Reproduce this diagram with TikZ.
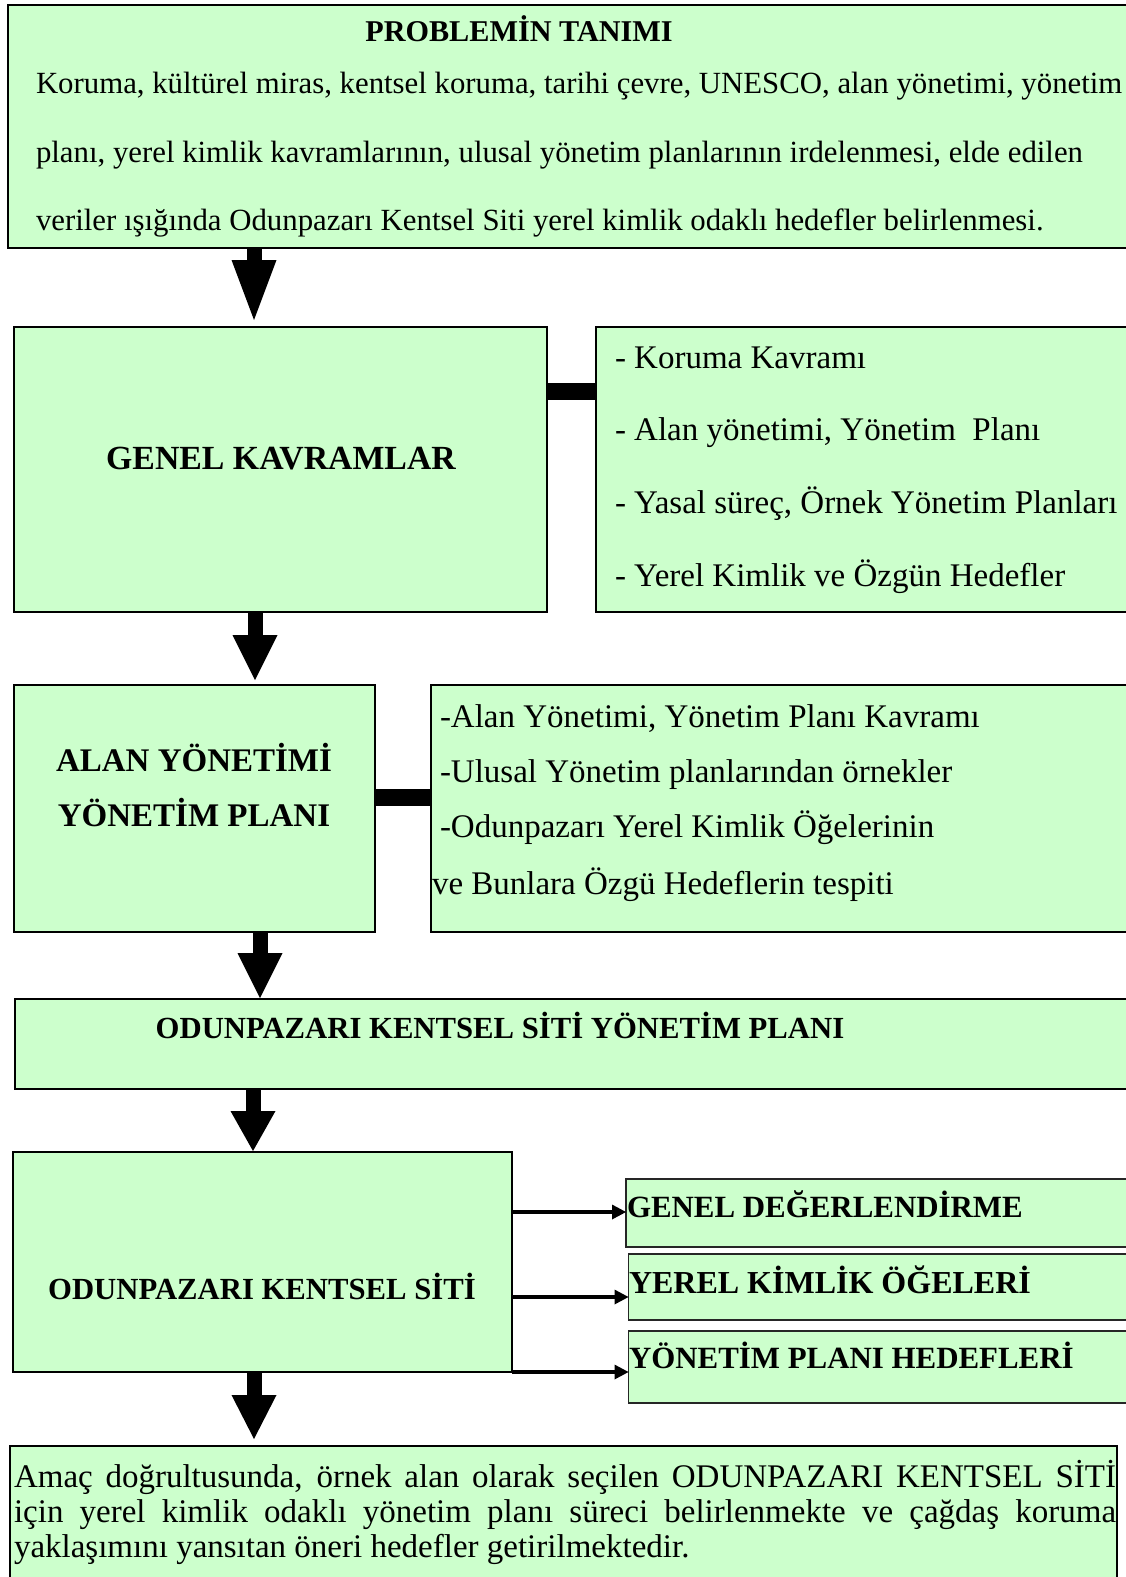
\documentclass[tikz,border=0pt]{standalone}
\usepackage{fontspec}
\setmainfont{Liberation Serif}
\usetikzlibrary{arrows.meta}
\definecolor{boxgreen}{HTML}{CCFFCC}
\begin{document}
\begin{tikzpicture}[x=1pt,y=-1pt,
  box/.style={draw=black, line width=2pt, fill=boxgreen, rectangle, inner sep=0pt, outer sep=0pt, anchor=north west},
  sbox/.style={box, line width=1.6pt, draw=black!85},
  txt/.style={inner sep=0pt, outer sep=0pt, anchor=base west},
  ctxt/.style={inner sep=0pt, outer sep=0pt, anchor=base},
  downarrow/.style={line width=15pt},
  sidearrow/.style={line width=4pt, -{Triangle[length=14pt,width=15pt,line width=0pt]}},
  linkbar/.style={line width=17pt}
]
\useasboundingbox (0,0) rectangle (1126,1577);
\clip (0,0) rectangle (1126,1577);

% boxes
\node[box, minimum width=1140pt, minimum height=243pt] (top) at (8,5) {};
\node[box, minimum width=533pt, minimum height=285pt] (genel) at (14,327) {};
\node[box, minimum width=560pt, minimum height=285pt] (genelR) at (596,327) {};
\node[box, minimum width=361pt, minimum height=247pt] (alan) at (14,685) {};
\node[box, minimum width=720pt, minimum height=247pt] (alanR) at (431,685) {};
\node[box, minimum width=1140pt, minimum height=90pt] (odplan) at (15,999) {};
\node[box, minimum width=499pt, minimum height=220pt] (odsit) at (13,1152) {};
\node[sbox, minimum width=520pt, minimum height=68pt] (r1) at (626,1179) {};
\node[sbox, minimum width=520pt, minimum height=66pt] (r2) at (628.5,1254) {};
\node[sbox, minimum width=520pt, minimum height=72pt] (r3) at (628.5,1331) {};
\node[box, minimum width=1107pt, minimum height=160pt] (final) at (10,1446) {};

% texts
\node[ctxt, font=\fontsize{30.2}{30}\selectfont\bfseries] (t0) at (519,41) {PROBLEMİN TANIMI};
\node[txt, font=\fontsize{30.8}{30}\selectfont] (t1) at (36,93) {Koruma, kültürel miras, kentsel koruma, tarihi çevre, UNESCO, alan yönetimi, yönetim};
\node[txt, font=\fontsize{30.8}{30}\selectfont] (t2) at (36,162) {planı, yerel kimlik kavramlarının, ulusal yönetim planlarının irdelenmesi, elde edilen};
\node[txt, font=\fontsize{30.8}{30}\selectfont] (t3) at (36,230) {veriler ışığında Odunpazarı Kentsel Siti yerel kimlik odaklı hedefler belirlenmesi.};

\node[ctxt, font=\fontsize{33.8}{33}\selectfont\bfseries] (g0) at (281,469) {GENEL KAVRAMLAR};
\node[txt, font=\fontsize{33}{33}\selectfont] (g1) at (615,368) {- Koruma Kavramı};
\node[txt, font=\fontsize{33}{33}\selectfont] (g2) at (615,440) {- Alan yönetimi, Yönetim \ Planı};
\node[txt, font=\fontsize{33}{33}\selectfont] (g3) at (615,513) {- Yasal süreç, Örnek Yönetim Planları};
\node[txt, font=\fontsize{33}{33}\selectfont] (g4) at (615,586) {- Yerel Kimlik ve Özgün Hedefler};

\node[ctxt, font=\fontsize{33}{33}\selectfont\bfseries] (a0) at (194,771) {ALAN YÖNETİMİ};
\node[ctxt, font=\fontsize{33}{33}\selectfont\bfseries] (a1) at (194,826) {YÖNETİM PLANI};
\node[txt, font=\fontsize{33}{33}\selectfont] (a2) at (440,727) {-Alan Yönetimi, Yönetim Planı Kavramı};
\node[txt, font=\fontsize{33}{33}\selectfont] (a3) at (440,782) {-Ulusal Yönetim planlarından örnekler};
\node[txt, font=\fontsize{33}{33}\selectfont] (a4) at (440,837) {-Odunpazarı Yerel Kimlik Öğelerinin};
\node[txt, font=\fontsize{33}{33}\selectfont] (a5) at (432,894) {ve Bunlara Özgü Hedeflerin tespiti};

\node[ctxt, font=\fontsize{30.7}{30}\selectfont\bfseries] (o0) at (500,1038) {ODUNPAZARI KENTSEL SİTİ YÖNETİM PLANI};
\node[ctxt, font=\fontsize{30.7}{30}\selectfont\bfseries] (s0) at (262,1299) {ODUNPAZARI KENTSEL SİTİ};
\node[txt, font=\fontsize{30.9}{30}\selectfont\bfseries] (r1t) at (627,1217) {GENEL DEĞERLENDİRME};
\node[txt, font=\fontsize{32}{30}\selectfont\bfseries] (r2t) at (629,1293) {YEREL KİMLİK ÖĞELERİ};
\node[txt, font=\fontsize{30.9}{30}\selectfont\bfseries] (r3t) at (629,1368) {YÖNETİM PLANI HEDEFLERİ};

\node[txt, font=\fontsize{33}{33}\selectfont] (f1) at (14,1487) {\makebox[1102pt][s]{Amaç doğrultusunda, örnek alan olarak seçilen ODUNPAZARI KENTSEL SİTİ}};
\node[txt, font=\fontsize{33}{33}\selectfont] (f2) at (14,1522) {\makebox[1102pt][s]{için yerel kimlik odaklı yönetim planı süreci belirlenmekte ve çağdaş koruma}};
\node[txt, font=\fontsize{33}{33}\selectfont] (f3) at (14,1557) {yaklaşımını yansıtan öneri hedefler getirilmektedir.};

% connector positions
\coordinate (x1) at (254,0);
\coordinate (x2) at (255,0);
\coordinate (x3) at (260,0);
\coordinate (x4) at (253,0);
\coordinate (x5) at (254,0);
\coordinate (b1) at (0,391);
\coordinate (b2) at (0,797);
\coordinate (h1) at (0,1212);
\coordinate (h2) at (0,1297);
\coordinate (h3) at (0,1372);

% down arrows
\draw[downarrow, -{Triangle[length=60pt,width=45pt,line width=0pt]}, shorten >=7pt] (top.south -| x1) -- (genel.north -| x1);
\draw[downarrow, -{Triangle[length=45pt,width=45pt,line width=0pt]}, shorten >=5pt] (genel.south -| x2) -- (alan.north -| x2);
\draw[downarrow, -{Triangle[length=45pt,width=45pt,line width=0pt]}, shorten >=1pt] (alan.south -| x3) -- (odplan.north -| x3);
\draw[downarrow, -{Triangle[length=40pt,width=45pt,line width=0pt]}, shorten >=1pt] (odplan.south -| x4) -- (odsit.north -| x4);
\draw[downarrow, -{Triangle[length=44pt,width=45pt,line width=0pt]}, shorten >=7pt] (odsit.south -| x5) -- (final.north -| x5);

% link bars
\draw[linkbar] (genel.east |- b1) -- (genelR.west |- b1);
\draw[linkbar] (alan.east |- b2) -- (alanR.west |- b2);

% side arrows
\draw[sidearrow] (odsit.east |- h1) -- (r1.west |- h1);
\draw[sidearrow] (odsit.east |- h2) -- (r2.west |- h2);
\draw[sidearrow] (odsit.east |- h3) -- (r3.west |- h3);
\end{tikzpicture}
\end{document}
